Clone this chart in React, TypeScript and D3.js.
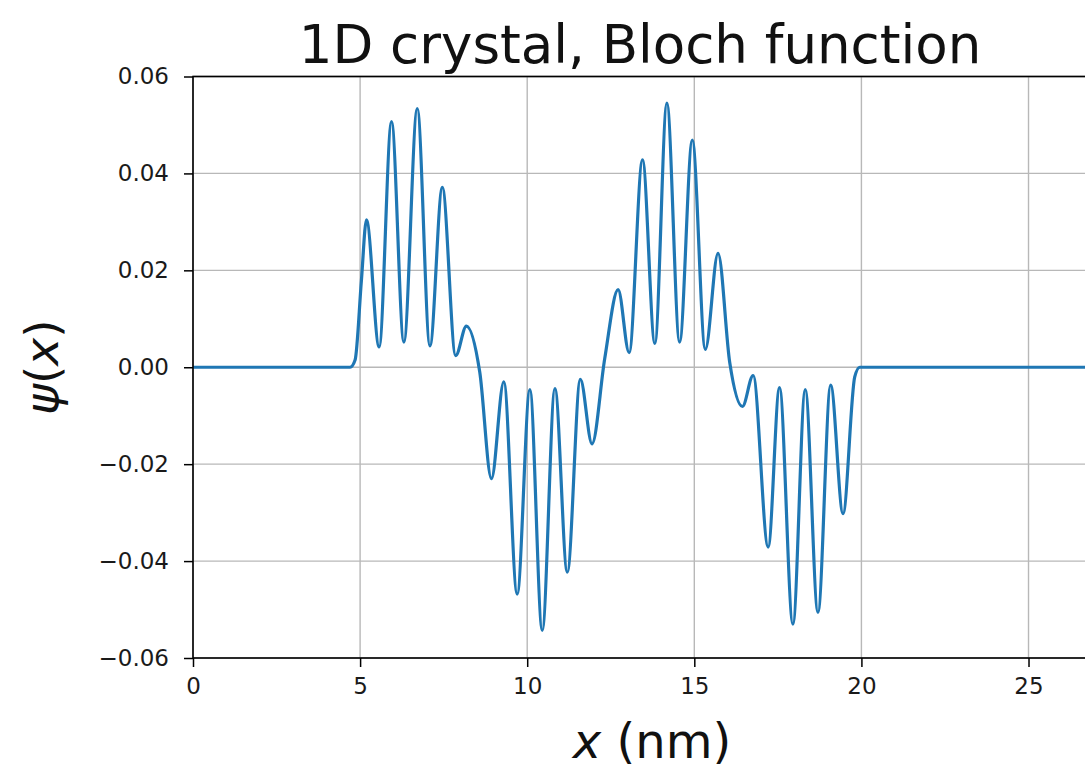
import React, { useEffect, useRef } from 'react';
import * as d3 from 'd3';

// points (peaks, troughs, shoulders) in nm / psi
const xPoints = [0, 4.7, 4.85, 5.04, 5.19, 5.57, 5.94, 6.31, 6.71, 7.09, 7.46, 7.86, 8.18, 8.58, 8.93, 9.3, 9.7, 10.08, 10.45, 10.83, 11.2, 11.59, 11.94, 12.32, 12.72, 13.05, 13.45, 13.82, 14.18, 14.56, 14.94, 15.33, 15.71, 16.06, 16.44, 16.76, 17.21, 17.55, 17.95, 18.32, 18.7, 19.08, 19.45, 19.8, 19.95, 20.1, 28];
const psiPoints = [0, 0, 0.0015, 0.018, 0.0304, 0.0042, 0.0507, 0.0052, 0.0534, 0.0044, 0.0371, 0.0024, 0.0085, -0.001, -0.023, -0.003, -0.0468, -0.0046, -0.0543, -0.0044, -0.0423, -0.0025, -0.0158, 0.0018, 0.016, 0.003, 0.0428, 0.0049, 0.0545, 0.0052, 0.0469, 0.0037, 0.0235, 0.001, -0.0081, -0.0017, -0.0371, -0.0042, -0.053, -0.0046, -0.0506, -0.0037, -0.0302, -0.002, 0, 0, 0];

const xTicks = [0, 5, 10, 15, 20, 25];
const yTicks = [-0.06, -0.04, -0.02, 0, 0.02, 0.04, 0.06];

const App = () => {
  const ref = useRef<SVGSVGElement | null>(null);

  useEffect(() => {
    document.body.style.margin = '0';
    const width = 1085;
    const height = 768;
    const left = 193;
    const right = 1087;
    const top = 76.5;
    const bottom = 658;
    const font = 'DejaVu Sans, sans-serif';

    const svg = d3.select(ref.current);
    svg.selectAll('*').remove();
    svg.attr('width', width).attr('height', height);

    const x = d3.scaleLinear().domain([0, 26.75]).range([left, right]);
    const y = d3.scaleLinear().domain([-0.06, 0.06]).range([bottom, top]);

    // grid
    svg.append('g')
      .selectAll('line')
      .data(xTicks)
      .join('line')
      .attr('x1', (d) => x(d)).attr('x2', (d) => x(d))
      .attr('y1', top).attr('y2', bottom)
      .attr('stroke', '#b8b8b8').attr('stroke-width', 1.4);
    svg.append('g')
      .selectAll('line')
      .data(yTicks)
      .join('line')
      .attr('x1', left).attr('x2', right)
      .attr('y1', (d) => y(d)).attr('y2', (d) => y(d))
      .attr('stroke', '#b8b8b8').attr('stroke-width', 1.4);

    // curve
    const line = d3.line<number>()
      .x((d, i) => x(xPoints[i]))
      .y((d) => y(d))
      .curve(d3.curveMonotoneX);
    svg.append('path')
      .datum(psiPoints)
      .attr('d', line)
      .attr('fill', 'none')
      .attr('stroke', '#1f77b4')
      .attr('stroke-width', 3.2);

    // spines
    svg.append('rect')
      .attr('x', left).attr('y', top)
      .attr('width', right - left).attr('height', bottom - top)
      .attr('fill', 'none').attr('stroke', '#000').attr('stroke-width', 1.6);

    // axes
    const xAxis = svg.append('g')
      .attr('transform', `translate(0,${bottom})`)
      .call(d3.axisBottom(x).tickValues(xTicks).tickSize(9).tickPadding(11).tickFormat(d3.format('d')));
    const yAxis = svg.append('g')
      .attr('transform', `translate(${left},0)`)
      .call(d3.axisLeft(y).tickValues(yTicks).tickSize(9).tickPadding(15).tickFormat(d3.format('.2f')));
    [xAxis, yAxis].forEach((g) => {
      g.select('.domain').remove();
      g.selectAll('line').attr('stroke', '#000').attr('stroke-width', 1.5);
      g.selectAll('text').attr('font-family', font).attr('font-size', 23).attr('fill', '#1a1a1a');
    });

    // title
    svg.append('text')
      .attr('x', (left + right) / 2).attr('y', 63)
      .attr('text-anchor', 'middle')
      .attr('font-family', font).attr('font-size', 53)
      .attr('fill', '#111')
      .text('1D crystal, Bloch function');

    // x label
    const xl = svg.append('text')
      .attr('x', 652).attr('y', 758)
      .attr('text-anchor', 'middle')
      .attr('font-family', font).attr('font-size', 48)
      .attr('fill', '#111');
    xl.append('tspan').attr('font-style', 'italic').text('x');
    xl.append('tspan').text(' (nm)');

    // y label
    const yl = svg.append('text')
      .attr('transform', `translate(58,${(top + bottom) / 2}) rotate(-90)`)
      .attr('text-anchor', 'middle')
      .attr('font-family', font).attr('font-size', 47)
      .attr('fill', '#111');
    yl.append('tspan').attr('font-style', 'italic').text('ψ');
    yl.append('tspan').text('(');
    yl.append('tspan').attr('font-style', 'italic').text('x');
    yl.append('tspan').text(')');
  }, []);

  return <svg ref={ref} style={{ display: 'block' }}></svg>;
};

export default App;
